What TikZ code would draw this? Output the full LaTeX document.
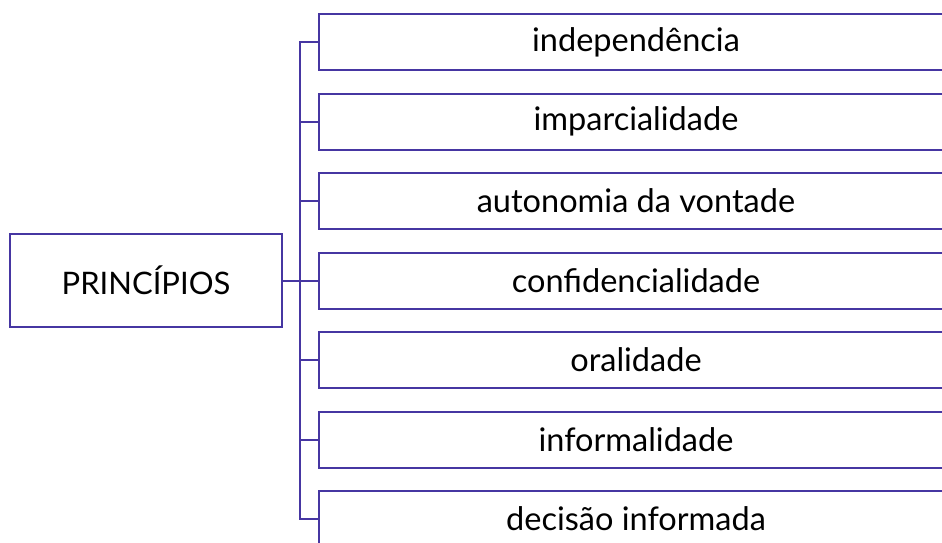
\documentclass[tikz,border=0pt]{standalone}
\usepackage{fontspec}
\setmainfont{Lato}
\usetikzlibrary{positioning}

\definecolor{boxline}{RGB}{70,54,162}

\tikzset{
  princbox/.style={rectangle,draw=boxline,line width=2pt,minimum width=272pt,minimum height=93pt,
    inner sep=0pt,font=\fontsize{31}{34}\selectfont},
  itembox/.style={rectangle,draw=boxline,line width=2pt,minimum width=634pt,minimum height=56pt,
    inner sep=0pt,font=\fontsize{32.5}{36}\selectfont},
  branch/.style={draw=boxline,line width=2pt}
}

\begin{document}
\begin{tikzpicture}[x=1pt,y=-1pt]
\useasboundingbox (0,0) rectangle (942,542);
\clip (0,0) rectangle (942,542);

% root
\node[princbox] (principios) at (146,280.5) {PRINCÍPIOS};

% the seven items
\path
(636,42)      node[itembox] (p1) {independência}
(636,121.5)   node[itembox] (p2) {imparcialidade}
(636,201)     node[itembox] (p3) {autonomia da vontade}
(636,280.5)   node[itembox] (p4) {confidencialidade}
(636,360)     node[itembox] (p5) {oralidade}
(636,439.5)   node[itembox] (p6) {informalidade}
(636,519)     node[itembox] (p7) {decisão informada}
;

% connectors
\coordinate (trunk) at (300,0);
\draw[branch] (p1.west) -- (p1.west -| trunk) -- (p7.west -| trunk) -- (p7.west);
\foreach \i in {2,...,6}
  \draw[branch] (p\i.west) -- (p\i.west -| trunk);
\draw[branch] (principios.east) -- (principios.east -| trunk);

\end{tikzpicture}
\end{document}
